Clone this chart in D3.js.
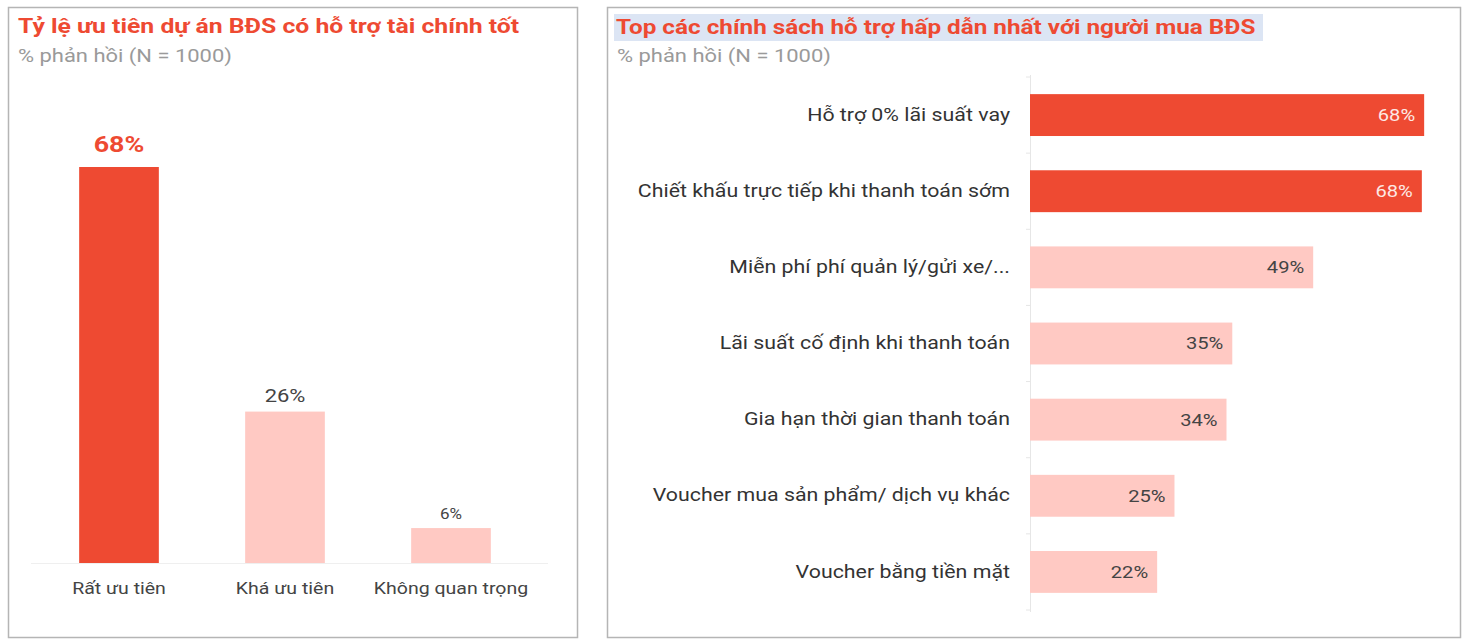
<!DOCTYPE html>
<html><head><meta charset="utf-8">
<script src="https://cdn.jsdelivr.net/npm/d3@7"></script>
<style>
body{margin:0;background:#fff;font-family:Roboto, "Noto Sans", sans-serif;}
</style></head>
<body>
<svg id="c" width="1466" height="644"></svg>
<script>
const leftTitle = "Tỷ lệ ưu tiên dự án BĐS có hỗ trợ tài chính tốt";
const rightTitle = "Top các chính sách hỗ trợ hấp dẫn nhất với người mua BĐS";
const subtitle = "% phản hồi (N = 1000)";
const leftCategories = ["Rất ưu tiên", "Khá ưu tiên", "Không quan trọng"];
const leftValues = [68, 26, 6];
const rightCategories = ["Hỗ trợ 0% lãi suất vay", "Chiết khấu trực tiếp khi thanh toán sớm", "Miễn phí phí quản lý/gửi xe/...", "Lãi suất cố định khi thanh toán", "Gia hạn thời gian thanh toán", "Voucher mua sản phẩm/ dịch vụ khác", "Voucher bằng tiền mặt"];
const rightValues = [68.2, 67.8, 49, 35, 34, 25, 22];

const RED = "#ee4a32", PINK = "#ffc9c3";
const SX = 1.22;
const svg = d3.select("#c");
function st(sel, fx, fy){
  sel.each(function(d,i){
    const x = typeof fx==="function"?fx(d,i):fx, y = typeof fy==="function"?fy(d,i):fy;
    d3.select(this).attr("x",0).attr("y",0).attr("transform",`translate(${x},${y}) scale(${SX},1)`);
  });
  return sel;
}

// panels
svg.append("rect").attr("x",8.5).attr("y",7.5).attr("width",569).attr("height",630).attr("fill","none").attr("stroke","#b5b5b5").attr("stroke-width",1.5);
svg.append("rect").attr("x",607.5).attr("y",7.5).attr("width",853).attr("height",630).attr("fill","none").attr("stroke","#b5b5b5").attr("stroke-width",1.5);

// LEFT
st(svg.append("text").attr("fill",RED).attr("font-weight","bold").attr("font-size",20.3).text(leftTitle),18,33);
st(svg.append("text").attr("fill","#9a9a9a").attr("font-size",18).text(subtitle),18,62);

const xL = d3.scaleBand().domain(leftCategories).range([36,534]).paddingInner(0.52).paddingOuter(0.26);
const yL = d3.scaleLinear().domain([0,68]).range([563,167]);
const gL = svg.append("g");
gL.append("line").attr("x1",31).attr("x2",548).attr("y1",563.5).attr("y2",563.5).attr("stroke","#efefef");
gL.selectAll("rect.b").data(leftValues).join("rect")
  .attr("x",(d,i)=>xL(leftCategories[i])).attr("width",xL.bandwidth())
  .attr("y",d=>yL(d)).attr("height",d=>yL(0)-yL(d))
  .attr("fill",(d,i)=>i===0?RED:PINK);
const lblSize=[22,18,14], lblWeight=["bold","normal","normal"], lblColor=[RED,"#444","#444"], lblOff=[15,10,9];
st(gL.selectAll("text.v").data(leftValues).join("text")
  .attr("text-anchor","middle")
  .attr("font-size",(d,i)=>lblSize[i]).attr("font-weight",(d,i)=>lblWeight[i])
  .attr("fill",(d,i)=>lblColor[i]).text(d=>d+"%"),
  (d,i)=>xL(leftCategories[i])+xL.bandwidth()/2, (d,i)=>yL(d)-lblOff[i]);
const axL = d3.axisBottom(xL).tickSize(0).tickPadding(0);
const ga = gL.append("g").attr("transform","translate(0,583)").call(axL);
ga.select(".domain").remove();
ga.selectAll("text").attr("font-size",16).attr("fill","#444").attr("font-family","Roboto").attr("dy","0.71em")
  .attr("transform",`scale(${SX},1)`);

// RIGHT
svg.append("rect").attr("x",614).attr("y",14).attr("width",649).attr("height",27).attr("fill","#dce5f4");
st(svg.append("text").attr("fill",RED).attr("font-weight","bold").attr("font-size",19.9).text(rightTitle),616,34);
st(svg.append("text").attr("fill","#9a9a9a").attr("font-size",18).text(subtitle),617,62);

const yR = d3.scaleBand().domain(rightCategories).range([77,610]).paddingInner(0.45).paddingOuter(0.225);
const xR = d3.scaleLinear().domain([0,68]).range([1030,1423]);
const gR = svg.append("g");
gR.append("line").attr("x1",1030.5).attr("x2",1030.5).attr("y1",75).attr("y2",612).attr("stroke","#e6e6e6");
const bounds = d3.range(rightCategories.length+1).map(i=>77+i*yR.step());
gR.selectAll("line.t").data(bounds).join("line").attr("x1",1026).attr("x2",1030).attr("y1",d=>d).attr("y2",d=>d).attr("stroke","#e6e6e6");
gR.selectAll("rect.b").data(rightValues).join("rect")
  .attr("y",(d,i)=>yR(rightCategories[i])).attr("height",yR.bandwidth())
  .attr("x",xR(0)).attr("width",d=>xR(d)-xR(0))
  .attr("fill",(d,i)=>i<2?RED:PINK);
st(gR.selectAll("text.v").data(rightValues).join("text")
  .attr("dy","0.36em").attr("text-anchor","end").attr("font-size",16.5)
  .attr("fill",(d,i)=>i<2?"#fde8e4":"#444").text(d=>Math.round(d)+"%"),
  d=>xR(d)-9, (d,i)=>yR(rightCategories[i])+yR.bandwidth()/2);
const axR = d3.axisLeft(yR).tickSize(0).tickPadding(0);
const gy = gR.append("g").attr("transform","translate(1010,0)").call(axR);
gy.select(".domain").remove();
gy.selectAll("text").attr("font-size",17.5).attr("fill","#333").attr("font-family","Roboto")
  .attr("x",0).attr("transform",`scale(${SX},1)`);
</script>
</body></html>
